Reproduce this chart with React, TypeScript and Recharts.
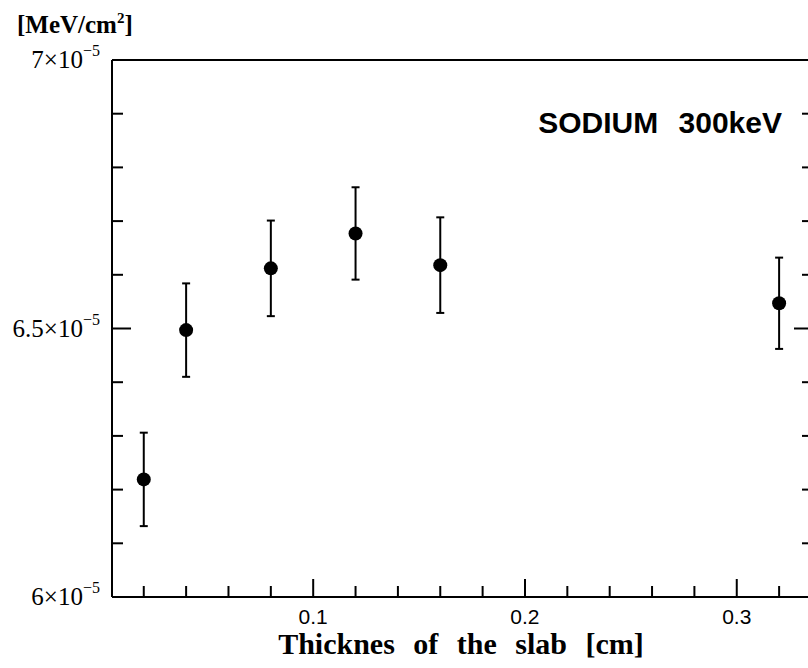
import { Customized, ErrorBar, Scatter, ScatterChart, XAxis, YAxis } from 'recharts';

// thickness of the slab [cm]
const thickness = [0.02, 0.04, 0.08, 0.12, 0.16, 0.32];
// deposited energy [MeV/cm^2]
const energy = [6.219e-5, 6.497e-5, 6.612e-5, 6.677e-5, 6.618e-5, 6.547e-5];
const energyErr = [0.087e-5, 0.087e-5, 0.089e-5, 0.086e-5, 0.089e-5, 0.085e-5];

const xTicks = [
  0.02, 0.04, 0.06, 0.08, 0.1, 0.12, 0.14, 0.16, 0.18, 0.2, 0.22, 0.24, 0.26, 0.28, 0.3, 0.32,
];
const xMajor = [0.1, 0.2, 0.3];
const xMajorLabels = ['0.1', '0.2', '0.3'];

const yTicks = [6.0e-5, 6.1e-5, 6.2e-5, 6.3e-5, 6.4e-5, 6.5e-5, 6.6e-5, 6.7e-5, 6.8e-5, 6.9e-5, 7.0e-5];
const yMajor = [6.0e-5, 6.5e-5, 7.0e-5];
const yMajorMantissa = ['6', '6.5', '7'];

const X_DOMAIN = [0.005, 0.336];
const Y_DOMAIN = [6.0e-5, 7.0e-5];

const SERIF = '"Liberation Serif", "Times New Roman", serif';
const SANS = '"Liberation Sans", Arial, sans-serif';
const INK = '#000';

const data = thickness.map((x, i) => ({ x, y: energy[i], err: energyErr[i] }));

const near = (a: number, b: number, eps: number) => Math.abs(a - b) < eps;

function majorIndex(list: number[], v: number, eps: number) {
  return list.findIndex((m) => near(m, v, eps));
}

function BottomTick(props: any) {
  const { x, y, payload } = props;
  const i = majorIndex(xMajor, payload.value, 1e-6);
  const len = i >= 0 ? 18 : 11;
  return (
    <g>
      <line x1={x} y1={y} x2={x} y2={y - len} stroke={INK} strokeWidth={2} />
      {i >= 0 && (
        <text x={x} y={y + 27} textAnchor="middle" fontFamily={SANS} fontSize={21} fill={INK}>
          {xMajorLabels[i]}
        </text>
      )}
    </g>
  );
}

function TopTick(props: any) {
  const { x, y, payload } = props;
  const len = majorIndex(xMajor, payload.value, 1e-6) >= 0 ? 19 : 11;
  return <line x1={x} y1={y} x2={x} y2={y + len} stroke={INK} strokeWidth={2} />;
}

function LeftTick(props: any) {
  const { x, y, payload } = props;
  const i = majorIndex(yMajor, payload.value, 1e-9);
  const len = i >= 0 ? 19 : 11;
  return (
    <g>
      <line x1={x} y1={y} x2={x + len} y2={y} stroke={INK} strokeWidth={2} />
      {i >= 0 && (
        <text x={x - 12} y={y + 8} textAnchor="end" fontFamily={SERIF} fontSize={25} fill={INK}>
          {yMajorMantissa[i]}×10
          <tspan dy={-12} fontSize={16}>
            −5
          </tspan>
        </text>
      )}
    </g>
  );
}

function RightTick(props: any) {
  const { x, y, payload } = props;
  const len = majorIndex(yMajor, payload.value, 1e-9) >= 0 ? 19 : 11;
  return <line x1={x} y1={y} x2={x - len} y2={y} stroke={INK} strokeWidth={2} />;
}

function Dot(props: any) {
  const { cx, cy } = props;
  return <circle cx={cx} cy={cy} r={7} fill={INK} />;
}

function Texts() {
  return (
    <g>
      <text x={17} y={33} fontFamily={SERIF} fontWeight="bold" fontSize={25} fill={INK}>
        [MeV/cm
        <tspan dy={-10} fontSize={15}>
          2
        </tspan>
        <tspan dy={10}>]</tspan>
      </text>
      <text
        x={782}
        y={133}
        textAnchor="end"
        fontFamily={SANS}
        fontWeight="bold"
        fontSize={30}
        fill={INK}
        style={{ wordSpacing: 12 }}
      >
        SODIUM 300keV
      </text>
      <text
        x={461}
        y={654}
        textAnchor="middle"
        fontFamily={SERIF}
        fontWeight="bold"
        fontSize={30}
        fill={INK}
        style={{ wordSpacing: 11 }}
      >
        Thicknes of the slab [cm]
      </text>
    </g>
  );
}

export default function App() {
  return (
    <div
      style={{
        position: 'absolute',
        left: 0,
        top: 0,
        width: 808,
        height: 668,
        overflow: 'hidden',
        background: '#fff',
      }}
    >
      <ScatterChart width={816} height={668} margin={{ top: 59, right: 2, bottom: 70, left: 111 }}>
        <XAxis
          xAxisId={0}
          dataKey="x"
          type="number"
          domain={X_DOMAIN}
          allowDataOverflow
          ticks={xTicks}
          interval={0}
          height={1}
          tickSize={0}
          tickMargin={0}
          tickLine={false}
          axisLine={{ stroke: INK, strokeWidth: 2 }}
          tick={<BottomTick />}
        />
        <XAxis
          xAxisId="top"
          orientation="top"
          type="number"
          domain={X_DOMAIN}
          allowDataOverflow
          ticks={xTicks}
          interval={0}
          height={1}
          tickSize={0}
          tickMargin={0}
          tickLine={false}
          axisLine={{ stroke: INK, strokeWidth: 2 }}
          tick={<TopTick />}
        />
        <YAxis
          yAxisId={0}
          dataKey="y"
          type="number"
          domain={Y_DOMAIN}
          allowDataOverflow
          ticks={yTicks}
          interval={0}
          width={1}
          tickSize={0}
          tickMargin={0}
          tickLine={false}
          axisLine={{ stroke: INK, strokeWidth: 2 }}
          tick={<LeftTick />}
        />
        <YAxis
          yAxisId="right"
          orientation="right"
          type="number"
          domain={Y_DOMAIN}
          allowDataOverflow
          ticks={yTicks}
          interval={0}
          width={1}
          tickSize={0}
          tickMargin={0}
          tickLine={false}
          axisLine={{ stroke: INK, strokeWidth: 2 }}
          tick={<RightTick />}
        />
        <Scatter data={data} fill={INK} shape={<Dot />} isAnimationActive={false}>
          <ErrorBar
            dataKey="err"
            direction="y"
            width={4}
            stroke={INK}
            strokeWidth={2}
            isAnimationActive={false}
          />
        </Scatter>
        <Customized component={<Texts />} />
      </ScatterChart>
    </div>
  );
}
